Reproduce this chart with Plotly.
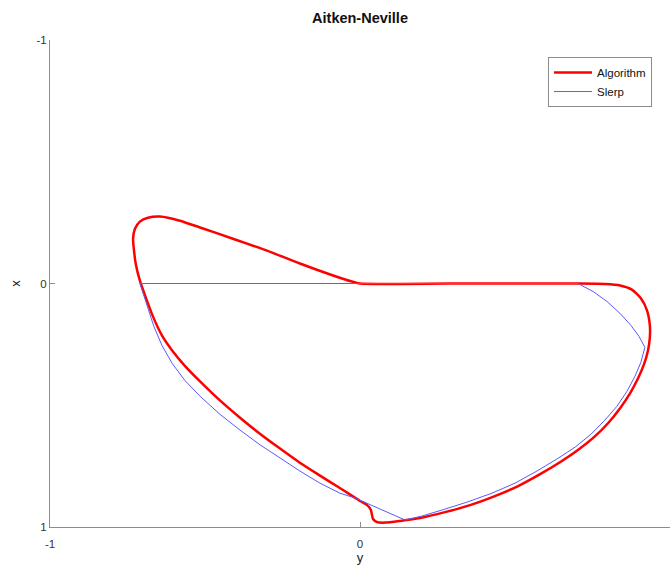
import plotly.graph_objects as go

# Algorithm curve (horizontal axis "y", vertical axis "x")
algorithm_y = [0.000, 0.290, 0.581, 0.710, 0.790, 0.839, 0.877, 0.906, 0.926, 0.935,
               0.935, 0.929, 0.916, 0.897, 0.871, 0.839, 0.800, 0.755, 0.703, 0.645,
               0.581, 0.510, 0.435, 0.355, 0.274, 0.194, 0.129, 0.081, 0.055, 0.042,
               0.035, 0.023, 0.000, -0.065, -0.129, -0.194, -0.258, -0.323, -0.387, -0.452,
               -0.516, -0.565, -0.606, -0.639, -0.668, -0.690, -0.710,
               -0.723, -0.729, -0.732, -0.726, -0.710, -0.684, -0.645, -0.581, -0.516, -0.410,
               -0.300, -0.194, -0.087, -0.026, 0.000]
algorithm_x = [0.000, 0.000, 0.000, 0.000, 0.002, 0.008, 0.025, 0.061, 0.111, 0.172,
               0.221, 0.275, 0.332, 0.389, 0.451, 0.512, 0.574, 0.631, 0.684, 0.734,
               0.783, 0.832, 0.873, 0.910, 0.939, 0.963, 0.975, 0.982, 0.980, 0.967,
               0.930, 0.910, 0.893, 0.840, 0.789, 0.736, 0.678, 0.617, 0.551, 0.480,
               0.402, 0.338, 0.275, 0.213, 0.135, 0.061, -0.012,
               -0.078, -0.135, -0.184, -0.225, -0.254, -0.270, -0.275, -0.258, -0.230, -0.184,
               -0.135, -0.082, -0.033, -0.008, 0.000]

# Slerp curve
slerp_y = [-0.710, -0.355, 0.000, 0.355, 0.703, 0.752, 0.797, 0.839, 0.874, 0.900,
           0.919, 0.906, 0.887, 0.861, 0.829, 0.790, 0.745, 0.694, 0.635, 0.571,
           0.500, 0.426, 0.345, 0.265, 0.200, 0.145, -0.016, -0.065, -0.129, -0.194,
           -0.258, -0.323, -0.387, -0.452, -0.516, -0.565, -0.606, -0.639, -0.665, -0.687,
           -0.710]
slerp_x = [0.000, 0.000, 0.000, 0.000, 0.000, 0.033, 0.074, 0.123, 0.172, 0.217,
           0.262, 0.324, 0.381, 0.443, 0.504, 0.561, 0.619, 0.672, 0.721, 0.770,
           0.820, 0.861, 0.898, 0.930, 0.955, 0.971, 0.881, 0.861, 0.820, 0.770,
           0.717, 0.662, 0.602, 0.537, 0.463, 0.398, 0.328, 0.254, 0.176, 0.090,
           0.000]

tick_vals = [-1, 0, 1]
tick_text = ["-1", "0", "1"]

fig = go.Figure()
fig.add_trace(go.Scatter(x=algorithm_y, y=algorithm_x, mode="lines", name="Algorithm",
                         line=dict(color="#ff0000", width=2.5, shape="spline", smoothing=0.6)))
fig.add_trace(go.Scatter(x=slerp_y, y=slerp_x, mode="lines", name="Slerp",
                         line=dict(color="#5a5aff", width=1)))

axis_common = dict(showgrid=False, zeroline=False, showline=True, linecolor="#8c8c8c",
                   linewidth=1, ticks="inside", ticklen=5, tickcolor="#8c8c8c",
                   tickvals=tick_vals, ticktext=tick_text,
                   tickfont=dict(size=11.5, color="#333333"))

fig.update_layout(
    width=671, height=571,
    margin=dict(l=50, r=1, t=40, b=44),
    paper_bgcolor="white", plot_bgcolor="white",
    font=dict(family="Liberation Sans, Arial, sans-serif", color="#222222"),
    title=dict(text="<b>Aitken-Neville</b>", x=0.5, xref="paper", xanchor="center",
               y=0.968, yref="container", yanchor="middle", font=dict(size=14.5, color="#111111")),
    xaxis=dict(range=[-1, 1], title=dict(text="y", font=dict(size=13), standoff=2),
               ticklabelstandoff=6, **axis_common),
    yaxis=dict(range=[1, -1], title=dict(text="x", font=dict(size=13), standoff=12), **axis_common),
    legend=dict(x=0.971, y=0.965, xanchor="right", yanchor="top", bordercolor="#8c8c8c",
                borderwidth=1, bgcolor="white", font=dict(size=11.5, color="#111111"),
                itemwidth=38, tracegroupgap=0),
    showlegend=True,
)

fig.write_html("out.html")
